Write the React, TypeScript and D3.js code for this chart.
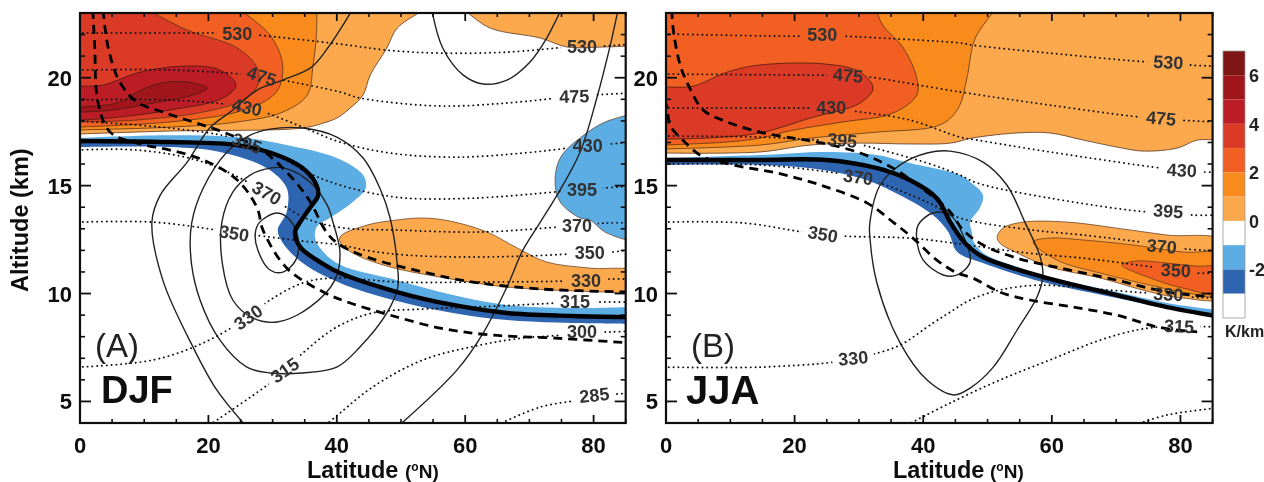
import React from "react";
import * as d3 from "d3";

type P = [number, number];
type L = [number, number, number, string];

// ---------- DJF filled contours (latitude °N, altitude km) ----------
const djfLevel0: P[] = [[-0.5,17.39],[14,17.53],[34.7,17.67],[37.9,17.9],[40,18.13],[42.1,18.6],[44.1,19.2],[45.2,20.12],[47.8,21.38],[49.4,22.3],[53,23.04]];
const djfLevel0b: P[] = [[60.3,23.04],[63.9,22.3],[71.7,21.84],[75.9,21.42],[81,21.42],[85.7,21.47]];
const djfLevel1: P[] = [[36.9,23.04],[36.8,21.84],[36.3,20.59],[35.4,19.2],[31.6,18.41],[24.5,17.95],[14,17.71],[-0.5,17.58]];
const djfLevel2: P[] = [[25.4,23.04],[29.6,21.98],[31.5,20.73],[31.2,19.66],[29.6,19.06],[24.5,18.41],[14,17.95],[-0.5,17.71]];
const djfLevel3: P[] = [[11.2,23.04],[16.7,22.21],[24.5,21.38],[27.6,20.45],[27.7,19.66],[25.4,18.97],[19.2,18.41],[8.9,18.04],[-0.5,17.95]];
const djfLevel4: P[] = [[-4,19.61],[0,19.61],[3.6,19.66],[8.9,20.22],[16,20.54],[21.8,20.36],[24.3,19.66],[22.3,19.06],[14,18.5],[6.2,18.18],[0,18.04],[-4,18.04]];
const djfLevel5: P[] = [[-4,18.64],[0,18.64],[6.2,18.87],[8.9,19.34],[12.5,19.75],[16.7,19.8],[19.8,19.52],[17.6,19.2],[11.4,18.83],[5.1,18.5],[0,18.41],[-4,18.41]];
const djfLowerOrange: P[] = [[40.5,12.62],[44.7,13.17],[49.4,13.41],[53.4,13.5],[57.6,13.36],[63.4,12.85],[68.1,12.11],[72.7,11.46],[79.4,11.18],[87,10.99],[87,10.07],[82.1,10.07],[66.5,10.3],[56.1,10.76],[48.3,11.23],[43.1,11.78],[40.8,12.25]];
const djfBlueRight: P[] = [[87,18.13],[82.6,18.04],[77.9,17.21],[74.8,16.28],[74,15.17],[74.8,14.24],[77.9,13.5],[79.4,13.41],[82.1,12.8],[87,12.57]];
const djfBlueUpper: P[] = [[-0.5,17.21],[14,17.34],[24.5,17.25],[32.2,16.88],[40,16.28],[44.1,15.49],[44.5,14.89],[42.5,14.24],[38.9,13.5],[37.1,13.17],[36.6,12.85],[36.9,12.34],[40,11.41],[49.4,10.62],[58.1,9.93],[66.5,9.47],[76.8,9.33],[85.7,9.37]];
const djfTropopause: P[] = [[-0.5,17.07],[14,17.02],[24.5,16.88],[30.7,16.42],[34.7,15.81],[36.6,15.17],[37.1,14.56],[35.8,13.96],[34.3,13.31],[33.5,12.85],[34.3,12.15],[37.1,11.51],[40.5,10.95],[49.4,10.07],[58.1,9.47],[66.5,9.1],[76.8,8.96],[85.7,8.91]];
const djfBlueLower: P[] = [[-0.5,16.79],[14,16.79],[21.8,16.56],[29.1,15.81],[32.2,14.89],[32.2,13.78],[30.8,12.94],[31.6,12.34],[34.7,11.41],[40.5,10.49],[48.8,9.7],[58.1,9.1],[66.5,8.77],[76.8,8.63],[85.7,8.59]];

// ---------- DJF solid contours ----------
const djfSolid1: P[] = [[42.4,23.14],[38.9,21.51],[36.1,20.5],[31.6,19.89],[27.6,19.43],[23.4,18.41],[20.2,17.67],[16.7,16.09],[12.5,14.56],[11.2,13.31],[12.9,10.62],[17.6,7.52],[21.3,5.53],[25.7,3.91]];
const djfSolid2: P[] = [[17.4,13.27],[19.2,14.89],[22.9,16.56],[26.5,17.34],[29.6,17.62],[34.7,17.67],[40,17.25],[44.1,16.28],[46.7,14.89],[48.3,13.5],[49.4,11.41],[49.5,10.3],[47.8,9.1],[43.6,7.52],[40,6.59],[34.7,6.32],[29.6,6.32],[26,6.59],[21.8,7.84],[18.7,9.7],[17.3,11.55]];
const djfSolid3: P[] = [[22.1,13.31],[23.8,14.7],[26.5,15.49],[29.6,15.81],[31.9,15.81],[35.8,15.17],[38.5,14.1],[39.4,13.31],[40.5,11.88],[39.7,10.62],[35.8,9.37],[30.7,8.68],[26.9,8.87],[23.8,9.7],[22.1,11.55]];
const djfSolid4: P[] = [[28,13.31],[30.7,13.73],[32.7,13.41],[34,12.48],[33.6,11.55],[31.6,10.99],[29.6,11.09],[27.7,12.02],[27.3,12.8]];
const djfSolid5: P[] = [[83.8,23.14],[82.6,21.51],[80.5,19.06],[77.9,16.56],[74.3,14.56],[71.7,13.31],[69,12.02],[66.5,10.3],[62.8,8.17],[58.7,6.45],[49.8,3.91]];
const djfSolid6: P[] = [[54.8,23.14],[56.5,21.38],[59.7,20.12],[62.8,19.71],[66.5,19.89],[70.1,20.73],[72.7,21.84],[74.9,23.14]];

// ---------- DJF dashed lines ----------
const djfDash1: P[] = [[3.6,23.14],[4.4,21.38],[6.2,19.8],[8.9,18.87],[12.9,18.41],[17.6,17.95],[22.3,17.48],[27.6,16.79],[31.6,15.81],[35.5,14.42],[38.5,12.8],[40.5,12.25],[44.7,11.69],[53.4,11],[61.2,10.53],[71.7,10.21],[85.7,10.07]];
const djfDash2: P[] = [[2,23.14],[2.3,21.38],[2.8,18.87],[4.7,17.48],[8.9,16.97],[14,16.65],[19.2,16.19],[24.5,15.26],[27.6,13.96],[28.5,12.94],[32.2,11.18],[37.9,10.07],[42.1,9.56],[48.3,9],[56.1,8.4],[63.9,8.08],[73.7,7.94],[85.7,7.71]];

// ---------- DJF isentropes ----------
const djf530: P[] = [[-0.3,22.07],[21.8,22.07],[24.5,22.07],[27.7,21.98],[40.5,21.56],[47.8,21.28],[56.1,21.14],[66.5,21.19],[75.9,21.42],[78.2,21.47],[81.5,21.47],[85.7,21.56]];
const djf475: P[] = [[-0.3,20.36],[14,20.36],[28.3,20.08],[31.6,19.89],[40.5,19.34],[43.6,19.06],[56.1,18.69],[66.5,18.83],[74.3,19.06],[77,19.15],[79.9,19.2],[85.7,19.29]];
const djf430: P[] = [[-0.3,18.97],[14,18.97],[26,18.64],[29.1,18.36],[34.7,17.71],[40.5,17.02],[48.3,16.51],[58.7,16.32],[69,16.51],[75.9,16.74],[79.1,16.88],[82.6,16.93],[85.7,17.02]];
const djf395: P[] = [[-0.3,18],[14,17.67],[23.4,17.25],[26,16.97],[29.6,16.56],[37.4,15.35],[44.7,14.7],[50.9,14.42],[61.2,14.42],[73.7,14.7],[78.2,14.84],[81.5,14.89],[85.7,14.98]];
const djf370: P[] = [[-0.3,16.65],[8.9,16.65],[19.2,16.09],[29.1,14.66],[31.6,14.1],[35.8,13.41],[41.3,13.03],[49.4,12.94],[62.3,12.85],[74.3,13.08],[77.4,13.17],[82.1,13.27],[85.7,13.27]];
const djf350: P[] = [[-0.3,13.31],[11.4,13.31],[21.3,12.94],[24,12.8],[27,12.71],[34.7,12.43],[40.5,12.25],[45.2,11.97],[51,11.78],[61.2,11.69],[76.3,11.83],[79.4,11.92],[82.6,11.92],[85.7,12.02]];
const djf330: P[] = [[-0.3,6.59],[11.4,6.92],[19.2,7.71],[26.2,8.91],[29.6,9.7],[34.7,10.49],[39.4,10.72],[49.8,10.53],[61.2,10.53],[76.3,10.58],[78.8,10.62],[82.6,10.67],[85.7,10.67]];
const djf315: P[] = [[20.2,3.91],[29.6,5.85],[31.9,6.45],[34.7,7.24],[40,8.45],[45.6,9.1],[53.4,9.28],[61.2,9.37],[74.3,9.56],[77.1,9.61],[80.5,9.61],[85.7,9.61]];
const djf300: P[] = [[38.3,3.91],[40.5,4.46],[45.6,5.67],[53.4,6.92],[62.3,7.61],[69,7.94],[75.2,8.08],[78.2,8.22],[82.6,8.22],[85.7,8.26]];
const djf285: P[] = [[65,3.91],[71.7,4.74],[77.4,5.06],[80.1,5.3],[83.3,5.34],[85.7,5.39]];
const djfLabels: L[] = [
  [24.5,22.07,0,"530"],[78.2,21.47,0,"530"],[28.3,20.08,18,"475"],[77,19.15,-2,"475"],[26,18.64,12,"430"],[79.1,16.88,0,"430"],
  [26,16.97,20,"395"],[78.2,14.84,0,"395"],[29.1,14.66,30,"370"],[77.4,13.17,0,"370"],[24,12.8,10,"350"],[79.4,11.92,0,"350"],
  [26.2,8.91,-35,"330"],[78.8,10.62,0,"330"],[31.9,6.45,-35,"315"],[77.1,9.61,0,"315"],[78.2,8.22,0,"300"],[80.1,5.3,-6,"285"],
];

// ---------- JJA filled contours ----------
const jjaLevel0: P[] = [[-0.5,16.51],[14.6,16.56],[22.4,16.88],[30.2,16.97],[37.9,16.93],[44.2,16.97],[47.7,17.21],[54.6,17.44],[59.7,17.44],[64.9,17.11],[70.1,16.79],[74.2,16.6],[79.5,16.74],[82.6,17.11],[85.5,17.11]];
const jjaLevel1: P[] = [[51.2,23.14],[48.1,21.84],[46.8,19.99],[45.7,18.73],[43.9,18.04],[41.5,17.71],[32.8,17.48],[22.4,17.2],[14.6,16.88],[-0.5,16.7]];
const jjaLevel2: P[] = [[32.7,23.14],[33.7,22.44],[36.9,21.38],[39,19.99],[39,19.2],[35.3,18.36],[27.5,17.95],[19.8,17.57],[14.6,17.2],[9.5,17.02],[-0.5,16.88]];
const jjaLevel3: P[] = [[-4,19.57],[0,19.57],[4.2,19.61],[9.5,20.26],[14.6,20.59],[25,20.63],[30.2,20.26],[32.2,19.52],[30.2,18.83],[22.4,18.13],[14.6,17.44],[6.8,17.21],[0,17.16],[-4,17.16]];
const jjaLowerOrange0: P[] = [[51.5,12.62],[52.4,13.03],[55.5,13.31],[62.4,13.31],[70.1,13.03],[77.9,12.71],[87,12.39],[87,9.84],[80.4,9.79],[75.3,10.07],[67.5,10.72],[59.7,11.23],[54.6,11.88],[51.9,12.34]];
const jjaLowerOrange1: P[] = [[57.1,12.39],[59.7,12.57],[64.9,12.48],[72.6,12.25],[80.4,11.92],[87,11.78],[87,9.93],[80.4,10.07],[75.3,10.39],[67.5,10.95],[60.8,11.55]];
const jjaLowerOrange2: P[] = [[70.9,11.32],[73.2,11.51],[77.9,11.41],[82.6,11.27],[87,11.18],[87,9.98],[80.4,10.25],[75.3,10.72]];
const jjaBlueUpper: P[] = [[-0.5,16.28],[14.6,16.42],[25,16.56],[32.8,16.42],[37.9,16.05],[45.7,15.49],[47.3,15.17],[49.3,14.56],[48.8,13.96],[47.3,13.31],[47.6,12.8],[47.7,12.48],[49.3,11.88],[54.6,11.23],[59.7,10.77],[70.1,10.07],[77.9,9.56],[85.5,9.24]];
const jjaTropopause: P[] = [[-0.5,16.19],[14.6,16.19],[25,16.19],[32.8,15.81],[37.9,15.26],[42.1,14.42],[44.2,13.31],[45.3,12.8],[46.8,12.25],[49.3,11.69],[58.6,10.77],[70.1,9.93],[77.9,9.37],[85.5,8.96]];
const jjaBlueLower: P[] = [[-0.5,15.96],[14.6,15.96],[22.4,15.81],[30.2,15.35],[36.4,14.56],[41.5,13.64],[43.9,12.85],[45.3,11.92],[49.3,11.41],[58.6,10.53],[70.1,9.79],[85.5,8.87]];

// ---------- JJA solid and dashed lines ----------
const jjaSolid1: P[] = [[31.7,13.27],[33.3,15.03],[36.4,15.96],[40.6,16.51],[44.2,16.6],[49.3,16.09],[53,15.03],[55.8,13.31],[58.2,11.69],[58.6,10.77],[57.7,9.84],[54.6,8.31],[50.9,6.59],[47.3,5.62],[44.8,5.3],[40.6,5.99],[36.4,7.71],[32.8,10.49],[31.7,12.62]];
const jjaSolid2: P[] = [[41.5,13.73],[44.2,13.64],[46.5,12.48],[47.3,11.46],[45.3,10.86],[43.1,10.86],[40,11.55],[39,12.48],[39.2,13.17]];
const jjaDash1: P[] = [[0.9,23.14],[1.1,22.3],[2.2,20.59],[3.7,19.52],[5.8,18.5],[9.5,17.95],[14.6,17.48],[19.8,17.2],[24.4,16.97],[30.2,16.51],[35.3,15.81],[40.6,14.7],[44.2,13.78],[46.2,12.94],[49.3,12.25],[54.6,11.64],[61.3,11.18],[70.1,10.62],[77.9,10.07],[85.5,9.84]];
const jjaDash2: P[] = [[-0.3,18.97],[0.2,18.6],[0.6,17.81],[2.6,17.11],[5.8,16.33],[10.4,15.96],[17.3,15.58],[24,15.03],[31.3,14.19],[35.3,13.31],[38.4,12.57],[42.1,11.55],[45.3,10.95],[47.7,10.72],[51.9,10.07],[56.6,9.7],[63.3,9.37],[70.1,9],[76.4,8.45],[82.6,8.22]];

// ---------- JJA isentropes ----------
const jja530: P[] = [[-0.3,22.03],[21.3,21.93],[24.3,21.98],[27.8,21.93],[45.7,21.61],[47.7,21.51],[59.7,21.14],[75.3,20.73],[78.1,20.73],[81.5,20.59],[85.5,20.54]];
const jja475: P[] = [[-0.3,20.17],[25,20.12],[28.3,20.12],[31.7,20.03],[45.7,19.34],[59.7,18.73],[73.7,18.18],[77,18.13],[79.9,18.04],[85.5,17.95]];
const jja430: P[] = [[-0.3,18.6],[22.9,18.6],[25.7,18.6],[29.1,18.46],[37.9,18.04],[45.7,17.25],[48.4,17.11],[59.7,16.56],[77.1,15.81],[80.2,15.72],[83.5,15.63],[85.5,15.63]];
const jja395: P[] = [[-0.3,17.3],[14.6,17.25],[24.4,17.11],[27.4,17.11],[30.6,16.88],[40.6,16.05],[45.7,15.49],[48.4,15.12],[59.7,14.42],[75.3,13.78],[78.1,13.83],[81.8,13.64],[85.5,13.64]];
const jja370: P[] = [[-0.3,16],[14.6,15.96],[26.6,15.58],[29.9,15.4],[32.8,15.17],[40.6,14.24],[45.7,13.5],[57.1,12.94],[64.9,12.71],[74.8,12.34],[77.1,12.2],[81,12.06],[85.5,11.97]];
const jja350: P[] = [[-0.3,13.31],[12,13.27],[21.3,12.85],[24.4,12.76],[27.8,12.66],[37.9,12.57],[44.6,12.34],[56.1,11.88],[64.9,11.64],[71.1,11.41],[76.8,11.18],[79.3,11.09],[82.6,10.95],[85.5,10.95]];
const jja330: P[] = [[-0.3,6.59],[14.6,6.59],[26,6.82],[29.1,7.01],[32.2,7.19],[36.4,7.61],[41.5,8.63],[44.2,9.14],[47.3,9.7],[51.9,10.16],[58.2,10.39],[64.9,10.25],[75.3,10.02],[78.1,9.98],[81.5,9.84],[85.5,9.79]];
const jja315: P[] = [[37.5,3.91],[44.2,4.93],[51.9,5.99],[59.7,6.92],[67.5,7.84],[73.2,8.31],[76.8,8.45],[79.8,8.49],[85.5,8.45]];
const jja300: P[] = [[72.9,3.91],[77.9,4.37],[85.5,4.69]];
const jjaLabels: L[] = [
  [24.3,21.98,0,"530"],[78.1,20.73,3,"530"],[28.3,20.12,5,"475"],[77,18.13,5,"475"],[25.7,18.6,0,"430"],[80.2,15.72,3,"430"],
  [27.4,17.11,5,"395"],[78.1,13.83,4,"395"],[29.9,15.4,8,"370"],[77.1,12.2,5,"370"],[24.4,12.76,10,"350"],[79.3,11.09,3,"350"],
  [29.1,7.01,-5,"330"],[78.1,9.98,3,"330"],[79.8,8.49,3,"315"],
];

// ---------- axes and colour bar ----------
const latMajor = [0, 20, 40, 60, 80];
const latMinor = [5, 10, 15, 25, 30, 35, 45, 50, 55, 65, 70, 75, 85];
const altMajor = [5, 10, 15, 20];
const altMinor = [6, 7, 8, 9, 11, 12, 13, 14, 16, 17, 18, 19, 21, 22];
const barLevels = [7, 6, 5, 4, 3, 2, 1, 0, -1, -2, -3];
const barColors = ["#7e1416", "#a0161f", "#bb1c27", "#db3a26", "#f15f22", "#f98b1e", "#fca84e", "#ffffff", "#5cade3", "#2f65b0", "#ffffff"];
const barTicks = [6, 4, 2, 0, -2];

const cLevel0 = barColors[6], cLevel1 = barColors[5], cLevel2 = barColors[4], cLevel3 = barColors[3], cLevel4 = barColors[2], cLevel5 = barColors[1];
const cLight = barColors[8], cDark = barColors[9];

const TOP = 23.5, LEFT = -0.5, RIGHT = 87;

interface PanelSpec {
  id: string; x0: number; x1: number;
  opened: { pts: P[]; corners: P[]; fill: string }[];
  closed: { pts: P[]; fill: string; line: boolean }[];
  band: { upper: P[]; trop: P[]; lower: P[] };
  afterBand: { pts: P[]; fill: string }[];
  solidOpen: P[][]; solidClosed: P[][]; dashes: P[][]; dots: P[][]; labels: L[];
}

const smooth = d3.curveCatmullRom.alpha(0.5);
const smoothClosed = d3.curveCatmullRomClosed.alpha(0.5);

const panels: PanelSpec[] = [
  {
    id: "a", x0: 80, x1: 625.7,
    opened: [
      { pts: djfLevel0, corners: [[53, TOP], [LEFT, TOP]], fill: cLevel0 },
      { pts: djfLevel0b, corners: [[RIGHT, 21.47], [RIGHT, TOP], [60.3, TOP]], fill: cLevel0 },
      { pts: djfLevel1, corners: [[LEFT, TOP], [36.9, TOP]], fill: cLevel1 },
      { pts: djfLevel2, corners: [[LEFT, TOP], [25.4, TOP]], fill: cLevel2 },
      { pts: djfLevel3, corners: [[LEFT, TOP], [11.2, TOP]], fill: cLevel3 },
    ],
    closed: [
      { pts: djfLevel4, fill: cLevel4, line: true },
      { pts: djfLevel5, fill: cLevel5, line: true },
    ],
    band: { upper: djfBlueUpper, trop: djfTropopause, lower: djfBlueLower },
    afterBand: [{ pts: djfLowerOrange, fill: cLevel0 }, { pts: djfBlueRight, fill: cLight }],
    solidOpen: [djfSolid1, djfSolid5, djfSolid6],
    solidClosed: [djfSolid2, djfSolid3, djfSolid4],
    dashes: [djfDash1, djfDash2],
    dots: [djf530, djf475, djf430, djf395, djf370, djf350, djf330, djf315, djf300, djf285],
    labels: djfLabels,
  },
  {
    id: "b", x0: 666, x1: 1212.6,
    opened: [
      { pts: jjaLevel0, corners: [[RIGHT, 17.11], [RIGHT, TOP], [LEFT, TOP]], fill: cLevel0 },
      { pts: jjaLevel1, corners: [[LEFT, TOP], [51.2, TOP]], fill: cLevel1 },
      { pts: jjaLevel2, corners: [[LEFT, TOP], [32.7, TOP]], fill: cLevel2 },
    ],
    closed: [{ pts: jjaLevel3, fill: cLevel3, line: true }],
    band: { upper: jjaBlueUpper, trop: jjaTropopause, lower: jjaBlueLower },
    afterBand: [
      { pts: jjaLowerOrange0, fill: cLevel0 },
      { pts: jjaLowerOrange1, fill: cLevel1 },
      { pts: jjaLowerOrange2, fill: cLevel2 },
    ],
    solidOpen: [],
    solidClosed: [jjaSolid1, jjaSolid2],
    dashes: [jjaDash1, jjaDash2],
    dots: [jja530, jja475, jja430, jja395, jja370, jja350, jja330, jja315, jja300],
    labels: jjaLabels,
  },
];

const FONT = "'Liberation Sans', Arial, sans-serif";
const yPlot = d3.scaleLinear().domain([4, 23]).range([423, 13]);

function Panel({ p }: { p: PanelSpec }) {
  const x = d3.scaleLinear().domain([0, 85]).range([p.x0, p.x1]);
  const y = yPlot;
  const line = d3.line<P>().x((d) => x(d[0])).y((d) => y(d[1])).curve(smooth);
  const loop = d3.line<P>().x((d) => x(d[0])).y((d) => y(d[1])).curve(smoothClosed);
  const tail = (c: P[]) => c.map((d) => `L${x(d[0])},${y(d[1])}`).join("") + "Z";
  const bandShape = (a: P[], b: P[]) => {
    const back = line([...b].reverse()) as string;
    return (line(a) as string) + "L" + back.slice(1) + "Z";
  };
  const clip = `clip-${p.id}`;
  const mask = `mask-${p.id}`;
  const [xl, xr] = x.range();
  const [yb, yt] = y.range();
  return (
    <g>
      <defs>
        <clipPath id={clip}><rect x={xl} y={yt} width={xr - xl} height={yb - yt} /></clipPath>
        <mask id={mask} maskUnits="userSpaceOnUse" x={xl} y={yt} width={xr - xl} height={yb - yt}>
          <rect x={xl} y={yt} width={xr - xl} height={yb - yt} fill="#fff" />
          {p.labels.map((l, i) => (
            <rect key={i} x={-21} y={-9} width={42} height={18} fill="#000"
              transform={`translate(${x(l[0])},${y(l[1])}) rotate(${l[2]})`} />
          ))}
        </mask>
      </defs>
      <g clipPath={`url(#${clip})`}>
        <rect x={xl} y={yt} width={xr - xl} height={yb - yt} fill="#fff" />
        {p.opened.map((s, i) => (
          <path key={i} d={(line(s.pts) as string) + tail(s.corners)} fill={s.fill} stroke="#5a3418" strokeWidth={0.8} />
        ))}
        {p.closed.map((s, i) => (
          <path key={i} d={loop(s.pts) as string} fill={s.fill} stroke="#4a1c10" strokeWidth={0.8} />
        ))}
        <path d={bandShape(p.band.upper, p.band.trop)} fill={cLight} />
        <path d={bandShape(p.band.trop, p.band.lower)} fill={cDark} />
        {p.afterBand.map((s, i) => (
          <path key={i} d={loop(s.pts) as string} fill={s.fill} stroke="#5a3418" strokeWidth={0.7} />
        ))}
        {p.solidOpen.map((s, i) => (
          <path key={i} d={line(s) as string} fill="none" stroke="#222" strokeWidth={1.4} />
        ))}
        {p.solidClosed.map((s, i) => (
          <path key={i} d={loop(s) as string} fill="none" stroke="#222" strokeWidth={1.4} />
        ))}
        <g mask={`url(#${mask})`}>
          {p.dots.map((s, i) => (
            <path key={i} d={line(s) as string} fill="none" stroke="#111" strokeWidth={1.9}
              strokeLinecap="round" strokeDasharray="0.1 4.7" />
          ))}
        </g>
        {p.dashes.map((s, i) => (
          <path key={i} d={line(s) as string} fill="none" stroke="#000" strokeWidth={2.8} strokeDasharray="9 6" />
        ))}
        <path d={line(p.band.trop) as string} fill="none" stroke="#000" strokeWidth={4.4} />
        {p.labels.map((l, i) => (
          <text key={i} textAnchor="middle" dy="0.36em" fontFamily={FONT} fontWeight={700} fontSize={18} fill="#333"
            transform={`translate(${x(l[0])},${y(l[1])}) rotate(${l[2]})`}>{l[3]}</text>
        ))}
      </g>
      {latMajor.map((v) => (
        <g key={v} stroke="#111" strokeWidth={1.8}>
          <line x1={x(v)} x2={x(v)} y1={yb} y2={yb - 8} />
          <line x1={x(v)} x2={x(v)} y1={yt} y2={yt + 8} />
        </g>
      ))}
      {latMinor.map((v) => (
        <g key={v} stroke="#111" strokeWidth={1.6}>
          <line x1={x(v)} x2={x(v)} y1={yb} y2={yb - 4} />
          <line x1={x(v)} x2={x(v)} y1={yt} y2={yt + 4} />
        </g>
      ))}
      {altMajor.map((v) => (
        <g key={v} stroke="#111" strokeWidth={1.8}>
          <line x1={xl} x2={xl + 11} y1={y(v)} y2={y(v)} />
          <line x1={xr} x2={xr - 11} y1={y(v)} y2={y(v)} />
        </g>
      ))}
      {altMinor.map((v) => (
        <g key={v} stroke="#111" strokeWidth={1.6}>
          <line x1={xl} x2={xl + 5} y1={y(v)} y2={y(v)} />
          <line x1={xr} x2={xr - 5} y1={y(v)} y2={y(v)} />
        </g>
      ))}
      <rect x={xl} y={yt} width={xr - xl} height={yb - yt} fill="none" stroke="#111" strokeWidth={2.2} />
      {latMajor.map((v) => (
        <text key={v} x={x(v)} y={453} textAnchor="middle" fontFamily={FONT} fontWeight={700} fontSize={22} fill="#111">{v}</text>
      ))}
      {altMajor.map((v) => (
        <text key={v} x={xl - 8} y={y(v) + 8} textAnchor="end" fontFamily={FONT} fontWeight={700} fontSize={22} fill="#111">{v}</text>
      ))}
      <text x={xl + 227} y={478} fontFamily={FONT} fontWeight={700} fontSize={23.5} fill="#111">Latitude</text>
      <text x={xl + (p.id === "a" ? 325 : 324)} y={478} fontFamily={FONT} fontWeight={700} fontSize={19} fill="#111">
        (<tspan fontSize={12} dy={-7}>o</tspan><tspan dy={7}>N)</tspan>
      </text>
    </g>
  );
}

function ColorBar() {
  const y = d3.scaleLinear().domain([7, -4]).range([51, 318]);
  return (
    <g>
      {barColors.map((c, i) => (
        <rect key={i} x={1223} y={y(barLevels[i])} width={22} height={y(barLevels[i] - 1) - y(barLevels[i])} fill={c} />
      ))}
      <rect x={1223} y={51} width={22} height={267} fill="none" stroke="#999" strokeWidth={0.8} />
      {barTicks.map((t) => (
        <text key={t} x={1249} y={y(t) + 7} fontFamily={FONT} fontWeight={700} fontSize={18} fill="#222">{t}</text>
      ))}
      <text x={1225} y={337} fontFamily={FONT} fontWeight={700} fontSize={16} fill="#222">K/km</text>
    </g>
  );
}

export default function App() {
  return (
    <svg width={1264} height={482} style={{ position: "absolute", left: 0, top: 0, display: "block" }}>
      <defs>
        <filter id="soft" x="0" y="0" width="100%" height="100%"><feGaussianBlur stdDeviation="0.45" /></filter>
      </defs>
      <rect width={1264} height={482} fill="#fff" />
      <g filter="url(#soft)">
        {panels.map((p) => <Panel key={p.id} p={p} />)}
        <ColorBar />
        <text transform="translate(28,292) rotate(-90)" fontFamily={FONT} fontWeight={700} fontSize={23.5} fill="#111">Altitude (km)</text>
        <text x={95} y={357} fontFamily={FONT} fontSize={33} fill="#222">(A)</text>
        <text x={101} y={403} fontFamily={FONT} fontWeight={700} fontSize={38} fill="#111">DJF</text>
        <text x={691} y={357} fontFamily={FONT} fontSize={33} fill="#222">(B)</text>
        <text x={686} y={404} fontFamily={FONT} fontWeight={700} fontSize={40} fill="#111">JJA</text>
      </g>
    </svg>
  );
}
